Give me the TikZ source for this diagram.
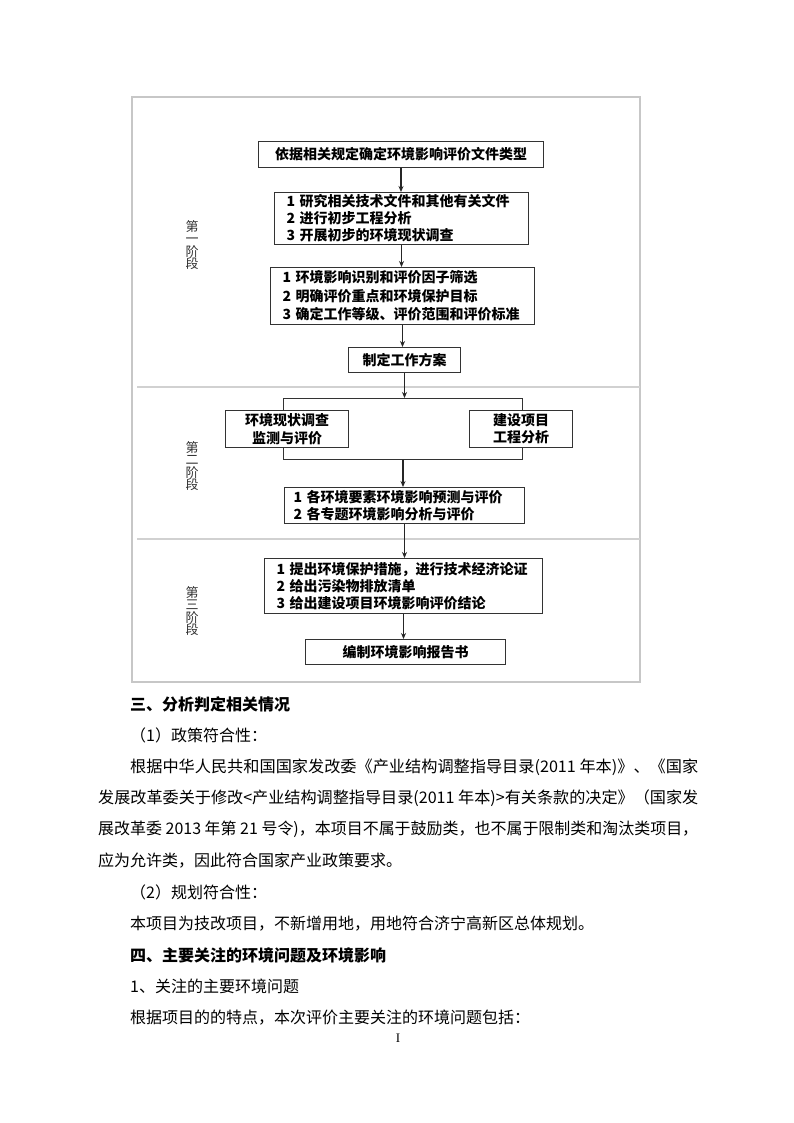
\documentclass[tikz,border=0pt]{standalone}
\usepackage{fontspec}
\usepackage{graphicx}
\setmainfont{Liberation Serif}
\newfontfamily\cjk{Noto Sans CJK SC}
\usetikzlibrary{arrows.meta,calc}
\begin{document}
\begin{tikzpicture}[x=1pt,y=-1pt,
  box/.style={draw=black!80,line width=1pt,fill=white,inner sep=0pt,anchor=north west,
    font=\cjk\bfseries\fontsize{14}{17}\selectfont},
  lbox/.style={box,align=left},
  cbox/.style={box,align=center},
  arr/.style={draw=black!85,line width=1.2pt,-{Stealth[length=6pt,width=5pt]}},
  stage/.style={align=center,inner sep=0pt,text=black!80,font=\cjk\fontsize{13}{12.5}\selectfont},
  body/.style={anchor=west,inner sep=0pt,font=\cjk\fontsize{16}{16}\selectfont},
  head/.style={body,font=\cjk\bfseries\fontsize{16}{16}\selectfont},
  frameline/.style={draw=black!22,line width=1.2pt},
  sepline/.style={draw=black!18,line width=1.6pt}
]
\path[use as bounding box,fill=white] (0,0) rectangle (794,1123);

% frame and stage separators
\draw[frameline] (132,97) rectangle (640,682);
\draw[sepline] (137,387) -- (640,387);
\draw[sepline] (137,539) -- (640,539);

% stage labels
\node[stage] (s1) at (192,245) {第\\一\\阶\\段};
\node[stage] (s2) at (192,466) {第\\二\\阶\\段};
\node[stage] (s3) at (192,611) {第\\三\\阶\\段};

% stage one
\node[cbox,minimum width=285pt,minimum height=26pt] (b1) at (258,141) {依据相关规定确定环境影响评价文件类型};
\node[lbox,text width=230pt,inner xsep=12pt,minimum height=52pt] (b2) at (274,192)
  {1 研究相关技术文件和其他有关文件\\2 进行初步工程分析\\3 开展初步的环境现状调查};
\node[lbox,text width=240pt,inner xsep=12pt,minimum height=57pt,
  font=\cjk\bfseries\fontsize{14}{18.5}\selectfont] (b3) at (270,267)
  {1 环境影响识别和评价因子筛选\\2 明确评价重点和环境保护目标\\3 确定工作等级、评价范围和评价标准};
\node[cbox,minimum width=112pt,minimum height=25pt] (b4) at (348,347) {制定工作方案};

% stage two
\node[draw=black!80,line width=1pt,inner sep=0pt,anchor=north west,
  minimum width=239pt,minimum height=61pt] (br) at (283,398) {};
\node[cbox,minimum width=123pt,minimum height=37pt,
  font=\cjk\bfseries\fontsize{14}{18}\selectfont] (bl) at (225,410) {环境现状调查\\监测与评价};
\node[cbox,minimum width=103pt,minimum height=37pt] (brt) at (469,410) {建设项目\\工程分析};
\node[lbox,text width=222pt,inner xsep=9pt,minimum height=36pt] (b5) at (284,487)
  {1 各环境要素环境影响预测与评价\\2 各专题环境影响分析与评价};

% stage three
\node[lbox,text width=254pt,inner xsep=12pt,minimum height=55pt] (b6) at (264,558)
  {1 提出环境保护措施，进行技术经济论证\\2 给出污染物排放清单\\3 给出建设项目环境影响评价结论};
\node[cbox,minimum width=200pt,minimum height=25pt] (b7) at (305,639) {编制环境影响报告书};

% connectors
\draw[arr] (b1.south) -- (b1.south |- b2.north);
\draw[arr] (b2.south) -- (b2.south |- b3.north);
\draw[arr] (b3.south) -- (b3.south |- b4.north);
\draw[arr] (b4.south) -- (b4.south |- br.north);
\draw[arr] (br.south) -- (br.south |- b5.north);
\draw[arr] (b5.south) -- (b5.south |- b6.north);
\draw[arr] (b6.south) -- (b6.south |- b7.north);

% body text
\node[head] (t1) at (130,704) {三、分析判定相关情况};
\node[body] (t2) at (130,735.4) {（1）政策符合性：};
\node[body] (t3) at (130,766.8) {\resizebox{568pt}{\height}{根据中华人民共和国国家发改委《产业结构调整指导目录(2011 年本)》、《国家}};
\node[body] (t4) at (98,798.2) {\resizebox{600pt}{\height}{发展改革委关于修改<产业结构调整指导目录(2011 年本)>有关条款的决定》（国家发}};
\node[body] (t5) at (98,829.6) {\resizebox{600pt}{\height}{展改革委 2013 年第 21 号令)，本项目不属于鼓励类，也不属于限制类和淘汰类项目，}};
\node[body] (t6) at (98,861) {应为允许类，因此符合国家产业政策要求。};
\node[body] (t7) at (130,892.4) {（2）规划符合性：};
\node[body] (t8) at (130,923.8) {本项目为技改项目，不新增用地，用地符合济宁高新区总体规划。};
\node[head] (t9) at (130,955.2) {四、主要关注的环境问题及环境影响};
\node[body] (t10) at (130,986.6) {1、关注的主要环境问题};
\node[body] (t11) at (130,1018) {根据项目的的特点，本次评价主要关注的环境问题包括：};
\node[inner sep=0pt,font=\fontsize{13}{13}\selectfont] (pg) at (398,1038) {I};
\end{tikzpicture}
\end{document}
